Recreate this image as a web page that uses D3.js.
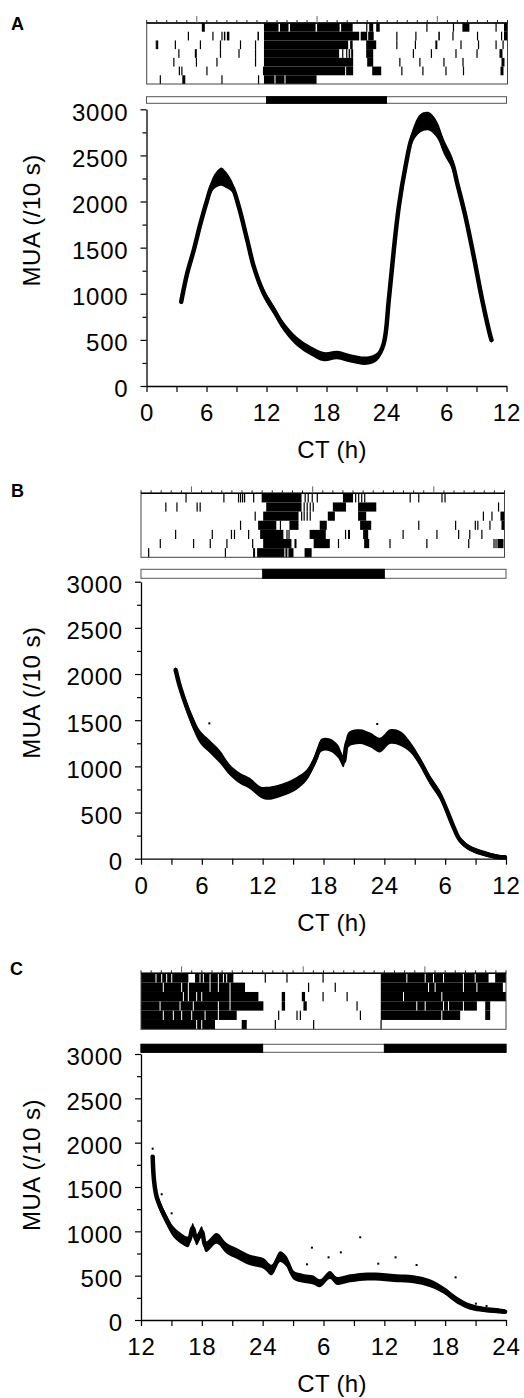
<!DOCTYPE html>
<html>
<head>
<meta charset="utf-8">
<script src="https://cdn.jsdelivr.net/npm/d3@7"></script>
<style>
body { margin: 0; background: #fff; }
svg { display: block; font-family: "Liberation Sans", Arial, Helvetica, sans-serif; }
</style>
</head>
<body>
<svg id="fig" width="524" height="1398"></svg>
<script>
// ---- data ----
var muaTicks = [0, 500, 1000, 1500, 2000, 2500, 3000];

// panel A : MUA trace (CT hours, counts/10 s, half width of the noisy band)
var hoursA  = [3.47, 4.07, 4.73, 5.4, 6.07, 6.57, 7.1, 7.5, 7.9, 8.57, 9.23, 10.07, 10.73, 11.73, 12.73, 13.73, 15.07, 16.4, 17.73, 19.07, 20.4, 22.07, 23.07, 23.73, 24.23, 24.73, 25.23, 25.9, 26.57, 27.4, 28.23, 29.07, 29.73, 30.57, 31.07, 31.9, 32.73, 33.57, 34.4, 34.5];
var muaA    = [914, 1222, 1475, 1764, 2017, 2180, 2250, 2270, 2240, 2160, 1944, 1583, 1294, 1005, 824, 643, 480, 383, 318, 336, 300, 275, 318, 463, 932, 1475, 1944, 2378, 2700, 2850, 2870, 2776, 2595, 2415, 2198, 1836, 1402, 932, 535, 500];
var spreadA = [40, 40, 40, 40, 50, 70, 90, 100, 90, 60, 40, 40, 50, 50, 50, 50, 50, 50, 50, 45, 45, 45, 45, 40, 40, 40, 40, 50, 70, 100, 100, 90, 80, 70, 60, 50, 40, 40, 40, 40];

// panel B
var hoursB  = [3.42, 3.84, 4.5, 5.15, 5.81, 6.8, 7.78, 8.77, 9.76, 10.74, 11.73, 12.39, 13.38, 14.36, 15.35, 16.34, 17.16, 17.82, 18.64, 19.46, 19.96, 20.45, 21.6, 22.59, 23.57, 24.56, 25.55, 26.53, 27.52, 28.51, 29.49, 30.15, 30.81, 31.46, 32.45, 33.77, 35.08, 35.9];
var muaB    = [2044, 1863, 1646, 1466, 1321, 1213, 1105, 961, 871, 816, 726, 708, 726, 762, 816, 906, 1069, 1231, 1231, 1159, 1051, 1286, 1321, 1286, 1231, 1321, 1304, 1213, 1051, 852, 690, 527, 347, 203, 113, 58, 22, 15];
var spreadB = [40, 50, 60, 70, 70, 70, 70, 60, 60, 60, 60, 70, 70, 70, 70, 60, 60, 70, 70, 70, 60, 80, 80, 80, 80, 80, 80, 60, 50, 50, 50, 40, 40, 35, 30, 30, 25, 20];
var outHoursB = [6.74, 23.3];
var outMuaB   = [1466, 1459];

// panel C
var hoursC  = [13.15, 13.28, 13.54, 14.04, 14.53, 15.19, 16.18, 16.67, 17.1, 17.49, 17.99, 18.41, 19.46, 20.45, 21.44, 22.75, 24.07, 24.89, 25.71, 26.37, 27.03, 28.01, 29.0, 29.65, 30.64, 31.3, 32.61, 33.93, 35.57, 37.22, 38.86, 40.51, 41.82, 43.14, 44.45, 45.77, 47.09, 47.91];
var muaC    = [1842, 1579, 1391, 1241, 1128, 996, 902, 883, 1034, 902, 996, 827, 921, 808, 752, 677, 639, 564, 714, 658, 508, 470, 451, 414, 508, 443, 470, 489, 489, 470, 459, 414, 338, 226, 150, 120, 105, 94];
var spreadC = [40, 50, 60, 60, 60, 60, 60, 60, 60, 60, 60, 60, 60, 60, 60, 60, 60, 60, 60, 60, 50, 50, 50, 45, 45, 45, 45, 45, 45, 45, 45, 45, 40, 40, 35, 30, 30, 25];
var outHoursC = [13.15, 14.04, 15.02, 28.86, 28.37, 30.5, 31.71, 33.62, 35.4, 37.11, 39.18, 43.03, 45.03, 46.08];
var outMuaC   = [1932, 1418, 1203, 816, 628, 707, 763, 933, 635, 707, 620, 481, 184, 158];

// light/dark bars: [start, end] of the dark phase, CT hours
var darkA = [[12, 24]];
var darkB = [[12, 24]];
var darkC = [[12, 24], [36, 48]];

// actograms: black activity segments per row, [start, end] in hours
var actoA = [
  [[5.5, 5.8], [11.7, 13.15], [13.3, 14.15], [14.3, 16.85], [17.0, 19.25], [19.4, 20.55], [21.9, 22.0], [22.2, 22.6], [22.9, 23.25], [27.9, 28.0], [30.55, 30.65], [31.5, 32.2], [34.8, 34.9], [35.65, 36]],
  [[4.1, 4.2], [6.55, 6.65], [7.45, 7.55], [7.7, 7.85], [8.0, 8.25], [11.05, 11.2], [11.7, 21.2], [21.35, 22.0], [22.1, 22.65], [24.9, 25.0], [26.8, 26.9], [29.1, 29.25], [30.5, 30.6], [32.95, 33.05], [35.35, 35.45], [35.65, 36]],
  [[0.9, 0.97], [1.03, 1.1], [2.8, 2.88], [5.3, 5.38], [7.3, 7.38], [9.3, 9.38], [10.8, 10.88], [11.7, 20.1], [20.3, 20.55], [21.9, 22.9], [24.9, 25.0], [26.75, 26.85], [28.8, 29.0], [31.3, 31.4], [33.05, 33.12], [34.8, 34.88], [35.5, 35.6]],
  [[3.15, 3.22], [4.8, 5.0], [7.3, 7.38], [9.15, 9.22], [10.8, 10.88], [11.7, 19.2], [19.5, 19.6], [19.9, 20.0], [20.15, 20.3], [20.4, 20.6], [21.9, 22.6], [26.55, 26.65], [28.35, 28.42], [30.8, 30.9], [32.9, 32.98], [35.2, 35.5]],
  [[2.65, 2.75], [4.9, 5.0], [6.95, 7.05], [10.8, 10.88], [11.7, 20.6], [22.0, 22.6], [25.2, 25.3], [27.2, 27.3], [29.6, 29.7], [31.5, 31.6], [35.4, 35.7]],
  [[3.2, 3.3], [3.45, 3.55], [5.95, 6.05], [11.6, 19.8], [19.9, 20.6], [22.5, 23.4], [25.4, 25.5], [27.5, 27.6], [29.8, 29.9], [31.55, 31.65], [35.3, 35.6]],
  [[1.3, 1.4], [3.55, 3.85], [7.45, 7.55], [11.1, 11.2], [11.7, 12.75], [12.85, 13.75], [13.85, 16.95]]
];
var actoB = [
  [[4.4, 4.5], [8.15, 8.22], [9.6, 9.65], [9.8, 9.85], [10.0, 10.05], [10.2, 10.25], [11.1, 11.15], [11.95, 15.9], [16.2, 16.3], [16.5, 16.6], [16.9, 17.0], [17.4, 17.5], [20.0, 21.0], [21.2, 21.3], [21.5, 21.6], [21.8, 21.9], [22.1, 22.2], [26.6, 26.7], [27.45, 27.5], [29.75, 29.85], [30.05, 30.15]],
  [[2.4, 2.48], [3.5, 3.56], [5.5, 5.55], [5.8, 5.86], [12.4, 15.9], [16.1, 16.2], [16.4, 16.5], [16.7, 16.8], [17.0, 17.1], [19.0, 20.3], [21.5, 23.3], [35.35, 35.45]],
  [[11.25, 11.35], [12.1, 15.6], [15.85, 15.95], [16.1, 16.2], [16.4, 16.5], [16.7, 16.8], [18.5, 19.2], [21.5, 22.3], [33.85, 33.92], [34.7, 34.77], [35.6, 36]],
  [[9.8, 9.87], [11.6, 13.4], [13.75, 13.8], [14.7, 15.6], [17.7, 18.4], [21.7, 22.8], [27.45, 27.5], [31.1, 31.15], [33.05, 33.15], [33.3, 33.4], [34.5, 34.6], [35.7, 36]],
  [[3.37, 3.42], [7.0, 7.07], [8.9, 9.0], [9.2, 9.3], [10.6, 10.7], [11.8, 14.1], [14.4, 14.5], [14.6, 14.7], [16.7, 18.3], [20.2, 20.3], [20.5, 20.7], [22.0, 22.5], [25.9, 25.95], [29.25, 29.3], [31.4, 31.5], [32.5, 32.6], [33.7, 33.8]],
  [[1.85, 1.92], [5.15, 5.22], [6.8, 6.87], [8.45, 8.5], [11.0, 11.1], [12.1, 14.9], [15.2, 15.4], [17.1, 18.7], [19.5, 19.6], [22.1, 22.6], [24.6, 24.7], [28.25, 28.3], [32.4, 32.5], [34.9, 35.0], [35.1, 35.2], [35.3, 35.9]],
  [[0.7, 0.77], [8.3, 8.37], [11.1, 11.3], [11.5, 14.2], [14.3, 14.5], [14.6, 15.1], [16.2, 16.9]]
];
var actoC = [
  [[12, 13.43], [13.53, 13.99], [14.09, 14.48], [14.58, 14.98], [15.08, 16.67], [17.33, 17.77], [17.87, 18.1], [18.2, 18.76], [18.86, 19.58], [19.68, 20.08], [20.18, 20.4], [20.5, 21.11], [24.2, 24.28], [26.34, 26.42], [29.9, 29.97], [35.65, 38.17], [38.27, 39.98], [40.08, 40.8], [40.9, 41.79], [41.89, 43.75], [43.85, 44.91], [45.01, 46.28], [46.93, 48]],
  [[12, 14.15], [14.25, 15.96], [16.06, 16.62], [16.72, 18.76], [18.86, 19.58], [19.68, 20.73], [20.83, 22.26], [28.47, 28.55], [31.1, 31.18], [35.65, 40.31], [40.41, 40.96], [41.06, 43.75], [43.85, 45.08], [45.18, 47.69]],
  [[12, 16.13], [16.23, 16.62], [16.72, 17.44], [17.54, 17.94], [18.04, 20.73], [20.83, 23.58], [25.88, 26.21], [27.86, 28.18], [29.9, 29.97], [32.27, 32.34], [35.65, 37.84], [37.94, 41.62], [41.72, 48]],
  [[12, 13.83], [13.93, 15.8], [15.9, 17.11], [17.21, 19.58], [19.68, 20.73], [20.83, 24.07], [25.88, 26.21], [28.02, 28.35], [33.25, 33.32], [35.65, 39.15], [39.25, 39.98], [40.08, 41.79], [41.89, 42.28], [42.38, 43.75], [43.85, 45.13], [45.95, 46.44]],
  [[12, 14.15], [14.25, 15.14], [15.24, 15.96], [16.06, 16.95], [17.05, 18.27], [18.37, 19.58], [19.68, 21.44], [25.52, 25.6], [27.33, 27.4], [27.66, 27.73], [33.58, 33.65], [35.65, 41.62], [41.72, 43.48], [45.95, 46.44]],
  [[12, 17.44], [17.54, 17.94], [18.04, 19.3], [21.93, 22.43], [25.19, 25.26], [28.97, 29.04], [35.62, 35.7]]
];

// ---- drawing ----
var svg = d3.select("#fig");

function hourLabel(h) { return h <= 24 ? h : h - 24; }

function drawPanel(p) {
    var g = svg.append("g");

    g.append("text")
        .attr("x", p.letter[1])
        .attr("y", p.letter[2])
        .attr("font-size", 18)
        .attr("font-weight", "bold")
        .text(p.letter[0]);

    // actogram
    var ax = d3.scaleLinear().domain(p.domain).range([p.act[0], p.act[1]]);
    var rowY = d3.scaleBand().domain(d3.range(p.acto.length)).range([p.act[2], p.act[3]]);
    var rows = g.append("g").selectAll("g")
        .data(p.acto)
        .enter().append("g")
        .attr("transform", function(d, i) { return "translate(0," + rowY(i) + ")"; });
    rows.selectAll("rect")
        .data(function(d) { return d; })
        .enter().append("rect")
        .attr("x", function(d) { return ax(d[0]); })
        .attr("width", function(d) { return Math.max(1.2, ax(d[1]) - ax(d[0])); })
        .attr("y", 0)
        .attr("height", rowY.bandwidth())
        .attr("fill", "#000");
    g.append("rect")
        .attr("x", p.act[0]).attr("y", p.act[2])
        .attr("width", p.act[1] - p.act[0]).attr("height", p.act[3] - p.act[2])
        .attr("fill", "none").attr("stroke", "#444").attr("stroke-width", 1);
    g.append("line")
        .attr("x1", p.act[0]).attr("x2", p.act[1])
        .attr("y1", p.act[2]).attr("y2", p.act[2])
        .attr("stroke", "#000").attr("stroke-width", 1.4);
    g.append("g").selectAll("line")
        .data(d3.range(p.domain[0], p.domain[1] + 1))
        .enter().append("line")
        .attr("x1", function(d) { return ax(d); })
        .attr("x2", function(d) { return ax(d); })
        .attr("y1", function(d) { return p.bigTicks.indexOf(d) >= 0 ? p.act[2] - 7 : p.act[2] - 3; })
        .attr("y2", p.act[2])
        .attr("stroke", function(d) { return p.bigTicks.indexOf(d) >= 0 ? "#666" : "#222"; })
        .attr("stroke-width", 1);

    // light/dark bar
    var lx = d3.scaleLinear().domain(p.domain).range([p.ld[0], p.ld[1]]);
    g.append("rect")
        .attr("x", p.ld[0]).attr("y", p.ld[2])
        .attr("width", p.ld[1] - p.ld[0]).attr("height", p.ld[3] - p.ld[2])
        .attr("fill", "#fff").attr("stroke", "#555").attr("stroke-width", 1);
    g.append("g").selectAll("rect")
        .data(p.dark)
        .enter().append("rect")
        .attr("x", function(d) { return lx(d[0]); })
        .attr("width", function(d) { return lx(d[1]) - lx(d[0]); })
        .attr("y", p.ld[2]).attr("height", p.ld[3] - p.ld[2])
        .attr("fill", "#000").attr("stroke", "#000").attr("stroke-width", 1);

    // MUA plot
    var x = d3.scaleLinear().domain(p.domain).range([p.plot[0], p.plot[1]]);
    var y = d3.scaleLinear().domain([0, 3000]).range([p.plot[3], p.plot[2]]);

    var xAxis = d3.axisBottom(x)
        .tickValues(d3.range(p.domain[0], p.domain[1] + 1, 3))
        .tickSize(6).tickSizeOuter(0).tickPadding(12)
        .tickFormat(function(d) { return d % 6 === 0 ? hourLabel(d) : ""; });
    var gx = g.append("g")
        .attr("transform", "translate(0," + p.plot[3] + ")")
        .call(xAxis);

    var yAxis = d3.axisLeft(y)
        .tickValues(d3.range(0, 3001, 250))
        .tickSize(6).tickSizeOuter(0).tickPadding(12)
        .tickFormat(function(d) { return muaTicks.indexOf(d) >= 0 ? d : ""; });
    var gy = g.append("g")
        .attr("transform", "translate(" + p.plot[0] + ",0)")
        .call(yAxis);
    gy.selectAll(".tick line")
        .attr("x2", function(d) { return muaTicks.indexOf(d) >= 0 ? -6 : -4; });
    gy.selectAll(".tick text").attr("dy", "0.45em");

    [gx, gy].forEach(function(a) {
        a.select(".domain").attr("stroke-width", 1.3);
        a.selectAll(".tick line").attr("stroke-width", 1.2);
        a.selectAll(".tick text")
            .attr("font-size", 24)
            .attr("letter-spacing", 0.8)
            .attr("font-family", "Liberation Sans, Arial, sans-serif")
            .attr("fill", "#000");
    });

    g.append("text")
        .attr("x", 332)
        .attr("y", p.plot[3] + 72)
        .attr("text-anchor", "middle")
        .attr("font-size", 24)
        .attr("letter-spacing", 0.3)
        .text("CT (h)");
    g.append("text")
        .attr("transform", "translate(40," + (p.plot[2] + 111) + ") rotate(-90)")
        .attr("text-anchor", "middle")
        .attr("font-size", 24)
        .attr("letter-spacing", 0.5)
        .text("MUA (/10 s)");

    // noisy band of the trace
    var pts = p.hours.map(function(h, i) { return [h, p.mua[i], p.spread[i]]; });
    var area = d3.area()
        .x(function(d) { return x(d[0]); })
        .y0(function(d) { return y(d[1] - d[2]); })
        .y1(function(d) { return y(d[1] + d[2]); })
        .curve(d3.curveCatmullRom);
    var line = d3.line()
        .x(function(d) { return x(d[0]); })
        .y(function(d) { return y(d[1]); })
        .curve(d3.curveCatmullRom);
    g.append("path").datum(pts).attr("d", area).attr("fill", "#000");
    g.append("path").datum(pts).attr("d", line)
        .attr("fill", "none").attr("stroke", "#000")
        .attr("stroke-width", 4.5).attr("stroke-linejoin", "round").attr("stroke-linecap", "round");

    g.append("g").selectAll("rect")
        .data(p.outH.map(function(h, i) { return [h, p.outM[i]]; }))
        .enter().append("rect")
        .attr("x", function(d) { return x(d[0]) - 1; })
        .attr("y", function(d) { return y(d[1]) - 1; })
        .attr("width", 2).attr("height", 2)
        .attr("fill", "#000");
}

drawPanel({
    letter: ["A", 11, 30], domain: [0, 36], acto: actoA, bigTicks: [5, 17, 29], dark: darkA,
    act: [146.7, 507.5, 23, 84], ld: [146.5, 506.5, 96.7, 103.3], plot: [146.5, 506.5, 109.3, 386],
    hours: hoursA, mua: muaA, spread: spreadA, outH: [], outM: []
});
drawPanel({
    letter: ["B", 11, 497], domain: [0, 36], acto: actoB, bigTicks: [5, 17, 29], dark: darkB,
    act: [141, 504.5, 493.3, 557.3], ld: [141, 506, 569.3, 578.3], plot: [141, 506, 581.7, 858.7],
    hours: hoursB, mua: muaB, spread: spreadB, outH: outHoursB, outM: outMuaB
});
drawPanel({
    letter: ["C", 10, 975], domain: [12, 48], acto: actoC, bigTicks: [16, 28, 40], dark: darkC,
    act: [141, 506, 973.3, 1029.3], ld: [141, 506, 1044.3, 1052.3], plot: [141, 506, 1054, 1320],
    hours: hoursC, mua: muaC, spread: spreadC, outH: outHoursC, outM: outMuaC
});
</script>
</body>
</html>
